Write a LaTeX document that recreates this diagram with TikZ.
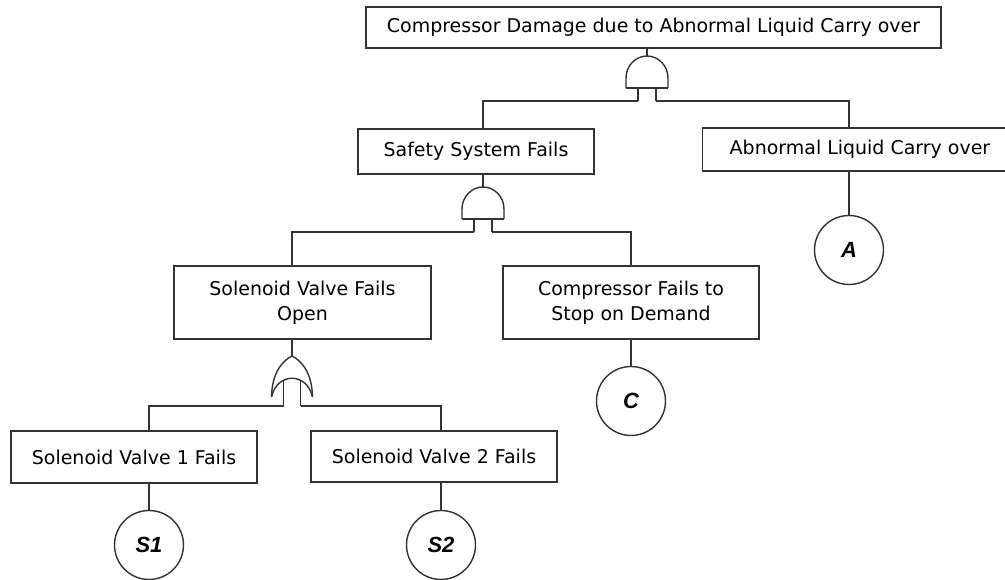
\documentclass[tikz,border=0pt]{standalone}
\usepackage{fontspec}
\setmainfont{DejaVu Sans}
\newfontfamily\markfont{Liberation Sans}

\tikzset{
	wire/.style={draw=black!80, line width=0.8pt},
	event/.style={draw=black!80, line width=0.8pt, fill=white, align=center,
		inner sep=2pt, font=\fontsize{10.8}{14}\selectfont},
	basic/.style={draw=black!80, line width=0.8pt, circle, minimum size=1.38cm,
		inner sep=0pt, font=\markfont\bfseries\itshape\fontsize{12.5}{14}\selectfont},
	% AND gate, drawn up from the middle of its flat base
	andgate/.pic={
		\draw[wire] (-21,0) -- (-21,-10) .. controls (-21,-22) and (-11.6,-32) .. (0,-32)
			.. controls (11.6,-32) and (21,-22) .. (21,-10) -- (21,0);
		\draw[wire, line width=1.5pt] (-21,0) -- (21,0);
		\draw[wire] (-9,0) -- (-9,13) coordinate (-in1);
		\draw[wire] (9,0) -- (9,13) coordinate (-in2);
		\coordinate (-out) at (0,-32);
	},
	% OR gate, drawn up from the middle between its two tips
	orgate/.pic={
		\draw[wire] (-20.5,0) .. controls (-20,-24) and (-10,-36) .. (0,-41)
			.. controls (10,-36) and (20,-24) .. (20.5,0);
		\draw[wire] (-20.5,0) .. controls (-15,-25) and (15,-25) .. (20.5,0);
		\draw[wire] (-8.5,-16.8) -- (-8.5,9) coordinate (-in1);
		\draw[wire] (8.5,-16.8) -- (8.5,9) coordinate (-in2);
		\coordinate (-out) at (0,-41);
	}
}

\begin{document}
\begin{tikzpicture}[x=0.02cm, y=-0.02cm]
	\useasboundingbox (0,0) rectangle (1005,580);
	
	% events
	\node[event, minimum width=11.5cm, minimum height=0.82cm] (top) at (653.5,27.5)
		{Compressor Damage due to Abnormal Liquid Carry over};
	\node[event, minimum width=4.72cm, minimum height=0.9cm] (safe) at (476,151.5)
		{Safety System Fails};
	\node[event, minimum width=6.3cm, minimum height=0.86cm] (liquid) at (860,149.5)
		{Abnormal Liquid Carry over};
	\node[event, minimum width=5.14cm, minimum height=1.46cm] (svfo) at (302.5,302.5)
		{Solenoid Valve Fails\\Open};
	\node[event, minimum width=5.12cm, minimum height=1.46cm] (cfsd) at (631,302.5)
		{Compressor Fails to\\Stop on Demand};
	\node[event, minimum width=4.92cm, minimum height=1.04cm] (sv1) at (134,457)
		{Solenoid Valve 1 Fails};
	\node[event, minimum width=4.92cm, minimum height=1.02cm] (sv2) at (434,456.5)
		{Solenoid Valve 2 Fails};
	
	% basic events
	\node[basic] (A) at (849,250) {A};
	\node[basic] (C) at (631,401) {C};
	\node[basic] (S1) at (149,545) {S1};
	\node[basic] (S2) at (441,545) {S2};
	
	% gates
	\pic (g1) at (647,88) {andgate};
	\pic (g2) at (483,219) {andgate};
	\pic (g3) at (292,397) {orgate};
	
	\draw[wire] (top.south -| g1-out) -- (g1-out);
	\draw[wire] (g1-in1) -| (safe.north -| g2-out);
	\draw[wire] (g1-in2) -| (liquid.north -| A);
	
	\draw[wire] (safe.south -| g2-out) -- (g2-out);
	\draw[wire] (g2-in1) -| (svfo.north -| g3-out);
	\draw[wire] (g2-in2) -| (cfsd.north -| C);
	
	\draw[wire] (svfo.south -| g3-out) -- (g3-out);
	\draw[wire] (g3-in1) -| (sv1.north -| S1);
	\draw[wire] (g3-in2) -| (sv2.north -| S2);
	
	\draw[wire] (liquid.south -| A) -- (A);
	\draw[wire] (cfsd.south -| C) -- (C);
	\draw[wire] (sv1.south -| S1) -- (S1);
	\draw[wire] (sv2.south -| S2) -- (S2);
\end{tikzpicture}
\end{document}
